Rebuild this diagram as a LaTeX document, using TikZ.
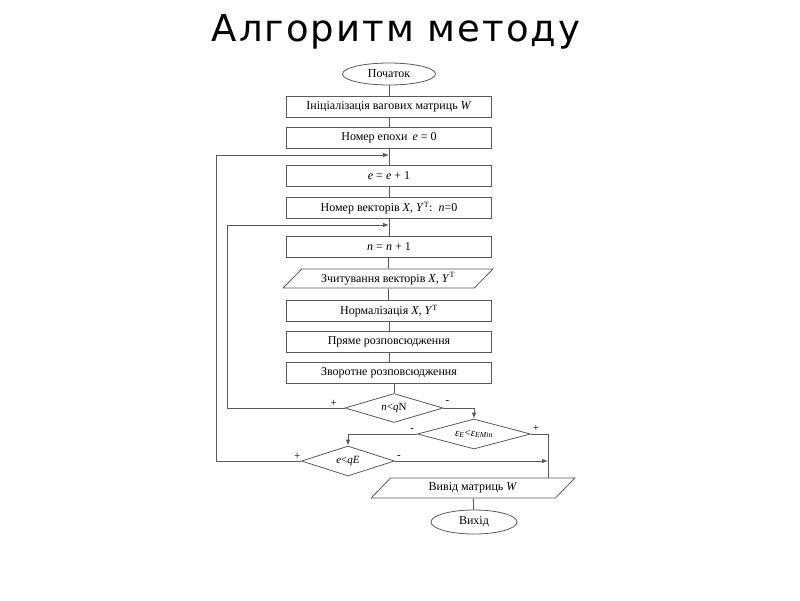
\documentclass[tikz,border=0pt]{standalone}
\usepackage{fontspec}
\setmainfont{Liberation Serif}
\newfontfamily\titlefont[LetterSpace=5.5]{DejaVu Sans}
\usetikzlibrary{arrows.meta,shapes.geometric}
\tikzset{
	block/.style = {shape=rectangle, draw=black!65, line width=0.8pt, minimum width=205pt, minimum height=21pt, inner sep=0pt, text centered, font=\fontsize{12}{14}\selectfont},
	term/.style = {shape=ellipse, draw=black!65, line width=0.8pt, inner sep=0pt, font=\fontsize{12}{14}\selectfont},
	io/.style = {shape=trapezium, trapezium stretches=true, trapezium left angle=40, trapezium right angle=140, draw=black!65, line width=0.8pt, inner sep=0pt, minimum width=210pt, minimum height=19pt, font=\fontsize{12}{14}\selectfont},
	cond/.style = {shape=diamond, draw=black!65, line width=0.8pt, inner sep=0pt, aspect=3, font=\fontsize{11}{13}\selectfont},
	sign/.style = {inner sep=0pt, font=\fontsize{11}{12}\selectfont}
}

\begin{document}
\begin{tikzpicture}[
    x=1pt, y=-1pt,
    >={Latex[length=6pt,width=4.5pt]},
    edge_style/.style={
        draw=black!65,
        line width=0.8pt
        }]

		\useasboundingbox (0,0) rectangle (800,600);

		\node[font=\titlefont\fontsize{37}{40}\selectfont, anchor=base] (title) at (396,41) {Алгоритм методу};

		\node[term, minimum width=93pt, minimum height=22pt] (start) at (389,74) {Початок};
		\node[block] (init) at (389,107) {Ініціалізація вагових матриць \textit{W}};
		\node[block] (epoch0) at (389,137.5) {Номер епохи\, \textit{e} = 0};
		\node[block] (epochinc) at (389,176) {\textit{e} = \textit{e} + 1};
		\node[block] (vecnum) at (389,208) {Номер векторів \textit{X}, \textit{Y}\textsuperscript{T}:\, \textit{n}=0};
		\node[block] (vecinc) at (389,247) {\textit{n} = \textit{n} + 1};
		\node[io] (read) at (388,278.5) {Зчитування векторів \textit{X}, \textit{Y}\textsuperscript{T}};
		\node[block] (norm) at (389,311) {Нормалізація \textit{X}, \textit{Y}\textsuperscript{T}};
		\node[block] (fwd) at (389,342) {Пряме розповсюдження};
		\node[block] (bwd) at (389,373) {Зворотне розповсюдження};

		\node[cond, minimum width=98pt, minimum height=29pt] (d1) at (394,408) {\textit{n}<\textit{q}N};
		\node[cond, minimum width=113pt, minimum height=30pt] (d2) at (474,434) {\textit{ε}\textsubscript{\textit{E}}<\textit{ε}\textsubscript{\textit{EMin}}};
		\node[cond, minimum width=93pt, minimum height=30pt] (d3) at (348,461) {\textit{e}<\textit{qE}};

		\node[io, trapezium left angle=45, trapezium right angle=135, minimum width=204pt, minimum height=20pt] (out) at (473,488) {Вивід матриць \textit{W}};
		\node[term, minimum width=86pt, minimum height=24pt] (end) at (474,522) {Вихід};

		\coordinate (j1) at (389,155);
		\coordinate (l1) at (216,155);
		\coordinate (j2) at (389,225);
		\coordinate (l2) at (227,225);
		\coordinate (j3) at (548,461);

		\draw[edge_style] (start) -- (init);
		\draw[edge_style] (init) -- (epoch0);
		\draw[edge_style] (epoch0) -- (epochinc);
		\draw[edge_style] (epochinc) -- (vecnum);
		\draw[edge_style] (vecnum) -- (vecinc);
		\draw[edge_style] (vecinc) -- (read);
		\draw[edge_style] (read) -- (norm);
		\draw[edge_style] (norm) -- (fwd);
		\draw[edge_style] (fwd) -- (bwd);
		\draw[edge_style] (bwd.south -| d1.north) -- (d1.north);

		\draw[edge_style, ->] (d1.west) -| (l2) -- (j2);
		\draw[edge_style, ->] (d1.east) -| (d2.north);
		\draw[edge_style, ->] (d2.west) -| (d3.north);
		\draw[edge_style] (d2.east) -| (out.north -| j3);
		\draw[edge_style, ->] (d3.west) -| (l1) -- (j1);
		\draw[edge_style, ->] (d3.east) -- (j3);
		\draw[edge_style] (out) -- (end);

		\node[sign] at ([shift={(-11,-5)}]d1.west) {+};
		\node[sign] at ([shift={(4,-6)}]d1.east) {-};
		\node[sign] at ([shift={(-5,-4)}]d2.west) {-};
		\node[sign] at ([shift={(5,-6)}]d2.east) {+};
		\node[sign] at ([shift={(-4,-5)}]d3.west) {+};
		\node[sign] at ([shift={(4,-4)}]d3.east) {-};
\end{tikzpicture}
\end{document}
